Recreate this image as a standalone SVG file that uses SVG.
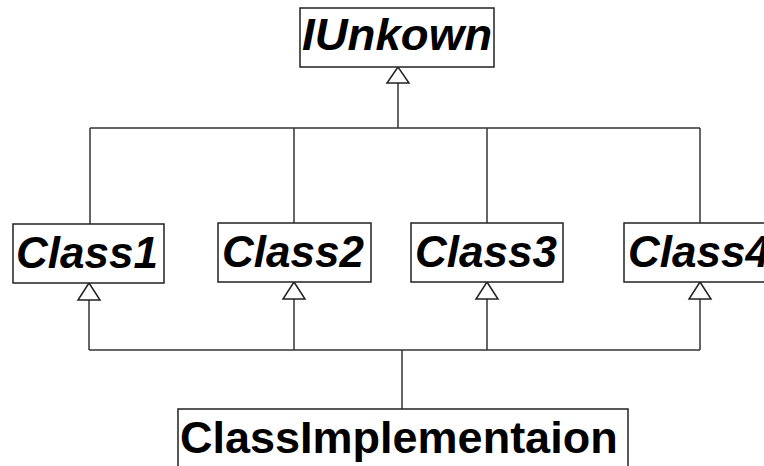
<svg xmlns="http://www.w3.org/2000/svg" width="764" height="466" viewBox="0 0 764 466">
<style>
.box{fill:#fff;stroke:#222;stroke-width:1.5}
.lbl{font-family:"Liberation Sans",Arial,sans-serif;font-weight:bold;fill:#000}
.it{font-style:italic;font-size:44px}
.line{fill:none;stroke:#333;stroke-width:1.5}
.tri{fill:#fff;stroke:#222;stroke-width:1.5}
</style>
<rect width="764" height="466" fill="#fff"/>
<g id="connectors">
<polyline class="line" points="398,83 398,128"/>
<polyline class="line" points="90,128 700,128"/>
<polyline class="line" points="90,128 90,224"/>
<polyline class="line" points="294,128 294,223"/>
<polyline class="line" points="487,128 487,223"/>
<polyline class="line" points="700,128 700,223"/>
<polygon class="tri" points="398,67 387,83 409,83"/>
<polyline class="line" points="402,409 402,350"/>
<polyline class="line" points="89,350 700,350"/>
<polyline class="line" points="89,350 89,300"/>
<polyline class="line" points="294,350 294,299"/>
<polyline class="line" points="487,350 487,299"/>
<polyline class="line" points="700,350 700,299"/>
<polygon class="tri" points="89,283 78,300 100,300"/>
<polygon class="tri" points="294,282 283,299 305,299"/>
<polygon class="tri" points="487,282 476,299 498,299"/>
<polygon class="tri" points="700,282 689,299 711,299"/>
</g>
<g id="IUnkown">
<rect class="box" x="300" y="8" width="194" height="59"/>
<text class="lbl it" x="302" y="50" font-size="45" textLength="190" lengthAdjust="spacingAndGlyphs">IUnkown</text>
</g>
<g id="Class1">
<rect class="box" x="13" y="224" width="151" height="59"/>
<text class="lbl it" x="16" y="268">Class1</text>
</g>
<g id="Class2">
<rect class="box" x="218" y="223" width="153" height="59"/>
<text class="lbl it" x="222" y="267">Class2</text>
</g>
<g id="Class3">
<rect class="box" x="411" y="223" width="152" height="59"/>
<text class="lbl it" x="415" y="267">Class3</text>
</g>
<g id="Class4">
<rect class="box" x="624" y="223" width="152" height="59"/>
<text class="lbl it" x="628" y="267">Class4</text>
</g>
<g id="ClassImplementaion">
<rect class="box" x="178" y="409" width="450" height="70"/>
<text class="lbl" x="180" y="453" font-size="45">ClassImplementaion</text>
</g>
</svg>
